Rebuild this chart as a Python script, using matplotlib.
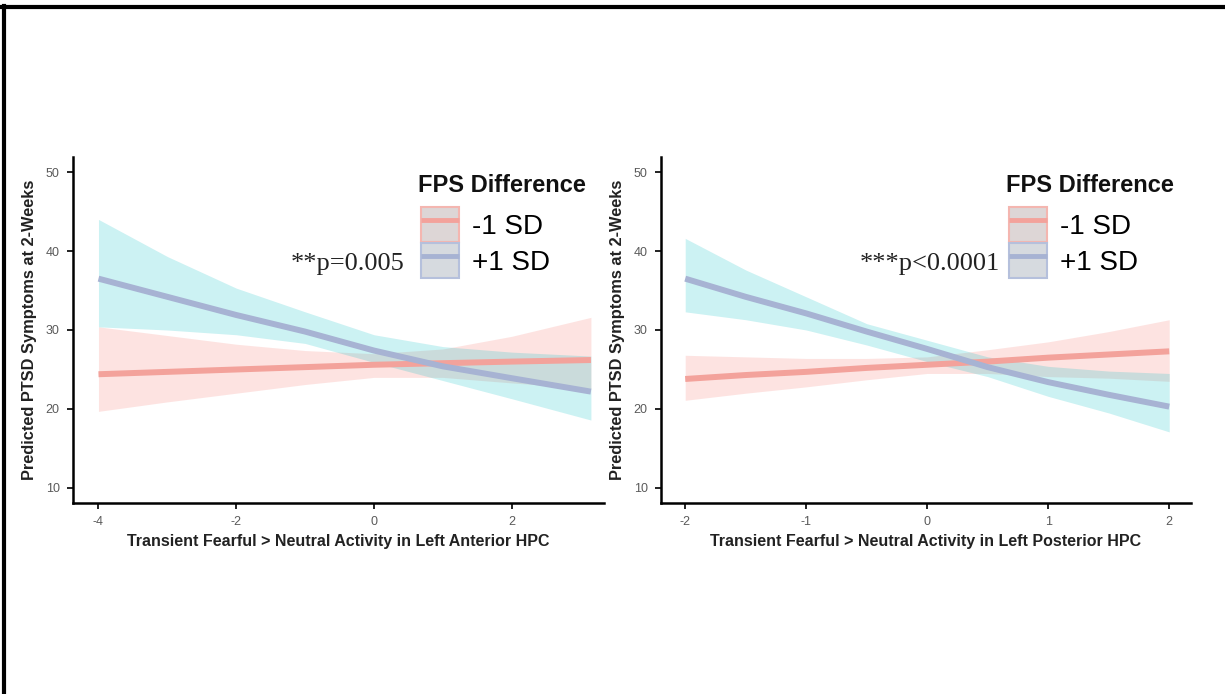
import matplotlib
matplotlib.use("Agg")
import matplotlib.pyplot as plt
from matplotlib.patches import Patch
from matplotlib.lines import Line2D

# ---- data ----
groups = ["-1 SD", "+1 SD"]
legend_title = "FPS Difference"
y_label = "Predicted PTSD Symptoms at 2-Weeks"
y_ticks = [10, 20, 30, 40, 50]

# left panel: anterior HPC
ant_x = [-4, -3, -2, -1, 0, 1, 2, 3.15]
ant_lo_fit = [24.4, 24.7, 25.0, 25.3, 25.6, 25.8, 26.0, 26.2]
ant_lo_upper = [30.4, 29.3, 28.2, 27.4, 27.0, 27.6, 29.2, 31.6]
ant_lo_lower = [19.7, 20.9, 22.0, 23.1, 24.0, 24.0, 23.3, 22.6]
ant_hi_fit = [36.5, 34.2, 31.9, 29.8, 27.4, 25.4, 23.9, 22.2]
ant_hi_upper = [44.0, 39.3, 35.3, 32.3, 29.4, 27.9, 27.2, 26.7]
ant_hi_lower = [30.4, 30.0, 29.4, 28.3, 25.9, 23.6, 21.3, 18.6]
ant_ticks = [-4, -2, 0, 2]
ant_xlabel = "Transient Fearful > Neutral Activity in Left Anterior HPC"
ant_p = "**p=0.005"

# right panel: posterior HPC
post_x = [-2, -1.5, -1, -0.5, 0, 0.5, 1, 1.5, 2]
post_lo_fit = [23.8, 24.3, 24.7, 25.2, 25.6, 26.0, 26.5, 26.9, 27.3]
post_lo_upper = [26.8, 26.6, 26.4, 26.4, 26.6, 27.5, 28.5, 29.8, 31.3]
post_lo_lower = [21.1, 22.0, 22.8, 23.7, 24.5, 24.5, 24.1, 23.9, 23.5]
post_hi_fit = [36.5, 34.2, 32.1, 29.8, 27.6, 25.3, 23.4, 21.8, 20.3]
post_hi_upper = [41.6, 37.6, 34.2, 30.8, 28.7, 26.6, 25.4, 24.8, 24.5]
post_hi_lower = [32.3, 31.3, 30.0, 28.1, 26.0, 24.1, 21.6, 19.5, 17.1]
post_ticks = [-2, -1, 0, 1, 2]
post_xlabel = "Transient Fearful > Neutral Activity in Left Posterior HPC"
post_p = "***p<0.0001"

PINK_FILL = "#F8766D"
TEAL_FILL = "#00BFC4"
PINK_LINE = "#f3a29b"
BLUE_LINE = "#a7b3d3"

W, H = 1225, 694
fig = plt.figure(figsize=(W / 100, H / 100), dpi=100)
sans = ["Liberation Sans", "DejaVu Sans"]
serif = ["Liberation Serif", "DejaVu Serif"]


def px_box(x0, x1, ytop, ybot):
    return [x0 / W, 1 - ybot / H, (x1 - x0) / W, (ybot - ytop) / H]


def panel(rect, x, lo, hi, ticks, xlim, xlabel, ptext, pxy, leg_xy):
    ax = fig.add_axes(rect)
    ax.fill_between(x, lo[2], lo[1], color=PINK_FILL, alpha=0.2, lw=0)
    ax.fill_between(x, hi[2], hi[1], color=TEAL_FILL, alpha=0.2, lw=0)
    ax.plot(x, lo[0], color=PINK_LINE, lw=4.3, solid_capstyle="butt")
    ax.plot(x, hi[0], color=BLUE_LINE, lw=4.3, solid_capstyle="butt")
    ax.set_xlim(*xlim)
    ax.set_ylim(8.1, 51.9)
    ax.set_xticks(ticks)
    ax.set_xticklabels([f"{t}" for t in ticks])
    ax.set_yticks(y_ticks)
    for s in ["top", "right"]:
        ax.spines[s].set_visible(False)
    for s in ["left", "bottom"]:
        ax.spines[s].set_linewidth(1.8)
    ax.tick_params(length=4.5, width=1.4, color="#222222", labelsize=9,
                   labelcolor="#5a5a5a", pad=5)
    for lab in ax.get_xticklabels() + ax.get_yticklabels():
        lab.set_family(sans)
    ax.set_xlabel(xlabel, fontsize=11.5, fontweight="bold", family=sans,
                  labelpad=4, color="#222222")
    ax.set_ylabel(y_label, fontsize=11.8, fontweight="bold", family=sans,
                  labelpad=6, color="#222222")
    ax.text(pxy[0], pxy[1], ptext, ha="right", va="center", fontsize=19,
            family=serif, color="#222222")

    # legend: title as its own text, keys below it
    lx, ly = leg_xy
    ax.text(lx - 3 / W, ly, legend_title, transform=fig.transFigure,
            ha="left", va="center", fontsize=17, fontweight="bold",
            family=sans, color="#111111")
    handles = [
        (Patch(facecolor="#ddd6d6", edgecolor="#f4b6b0", lw=1.5),
         Line2D([], [], color=PINK_LINE, lw=3.5, solid_capstyle="butt")),
        (Patch(facecolor="#d6dadf", edgecolor="#b5c0dc", lw=1.5),
         Line2D([], [], color=BLUE_LINE, lw=3.5, solid_capstyle="butt")),
    ]
    ax.legend(handles, groups, loc="upper left",
              bbox_to_anchor=(lx, ly - 22 / H),
              bbox_transform=fig.transFigure, frameon=False,
              borderpad=0, borderaxespad=0, handlelength=1.37,
              handleheight=1.56, labelspacing=0.04, handletextpad=0.45,
              prop={"family": sans, "size": 20})
    return ax


panel(px_box(73, 604, 157, 503), ant_x,
      (ant_lo_fit, ant_lo_upper, ant_lo_lower),
      (ant_hi_fit, ant_hi_upper, ant_hi_lower),
      ant_ticks, (-4.37, 3.34), ant_xlabel, ant_p, (0.45, 38.4),
      (421 / W, 1 - 185 / H))

panel(px_box(661, 1191, 157, 503), post_x,
      (post_lo_fit, post_lo_upper, post_lo_lower),
      (post_hi_fit, post_hi_upper, post_hi_lower),
      post_ticks, (-2.2, 2.18), post_xlabel, post_p, (0.6, 38.4),
      (1009 / W, 1 - 185 / H))

# outer frame (top and left edges only)
fig.add_artist(Line2D([2 / W, 1], [1 - 7 / H, 1 - 7 / H], color="black",
                      lw=3, transform=fig.transFigure))
fig.add_artist(Line2D([3.5 / W, 3.5 / W], [0, 1 - 5.5 / H], color="black",
                      lw=3, transform=fig.transFigure))

fig.savefig("out.png", dpi=100)
